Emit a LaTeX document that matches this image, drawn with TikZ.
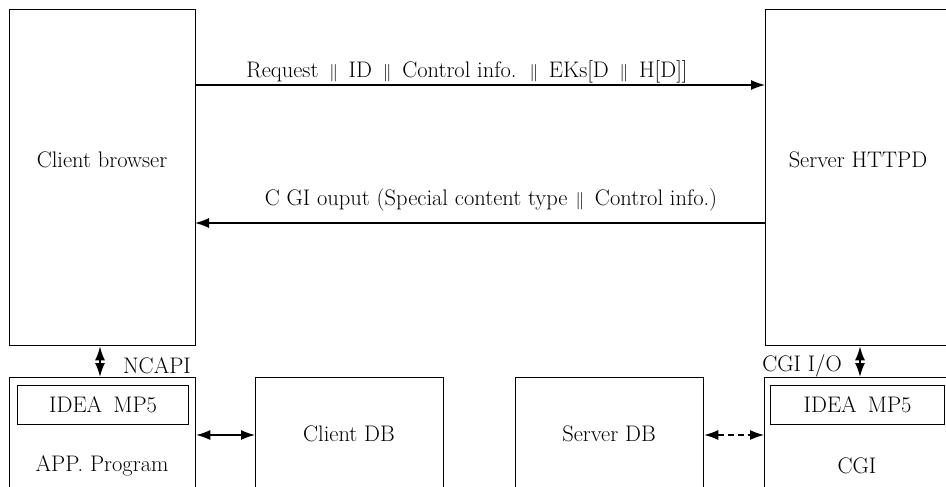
\documentclass[tikz,border=0pt]{standalone}
\usetikzlibrary{arrows.meta}
\newcommand{\dbar}{\hspace{4pt}{\fontsize{19}{20}\selectfont\raisebox{0.5pt}{$\|$}}\hspace{4pt}}
\begin{document}
\begin{tikzpicture}[x=1pt,y=-1pt,
  box/.style={draw, line width=1.3pt, rectangle, anchor=north west, inner sep=0pt},
  lbl/.style={font=\fontsize{22.5}{26}\selectfont, inner sep=0pt},
  arr/.style={line width=1.2pt, -{Latex[length=14pt,width=10pt]}},
  darr/.style={line width=1.2pt, {Latex[length=14pt,width=10pt]}-{Latex[length=14pt,width=10pt]}}]
\useasboundingbox (0,0) rectangle (946,487);
\clip (0,0) rectangle (946,487);
% top boxes
\node[box, minimum width=186pt, minimum height=336pt] (cb) at (9,9) {};
\node[box, minimum width=220pt, minimum height=336pt] (sh) at (765,9) {};
\node[lbl] (cbt) at (102,160) {Client browser};
\node[lbl] (sht) at (858,160) {Server HTTPD};
% bottom boxes
\node[box, minimum width=186pt, minimum height=140pt] (app) at (9,377) {};
\node[box, minimum width=171pt, minimum height=39pt] (idea1) at (17,385) {};
\node[lbl] at (idea1.center) {IDEA\enspace MP5};
\node[lbl] (appt) at (102,466) {APP. Program};
\node[box, minimum width=188pt, minimum height=140pt] (cdb) at (255,377) {};
\node[lbl] at (349,434) {Client DB};
\node[box, minimum width=188pt, minimum height=140pt] (sdb) at (515,377) {};
\node[lbl] at (609,434) {Server DB};
\node[box, minimum width=220pt, minimum height=140pt] (cgi) at (764,377) {};
\node[box, minimum width=174pt, minimum height=39pt] (idea2) at (770,385) {};
\node[lbl] at (idea2.center) {IDEA\enspace MP5};
\node[lbl] (cgit) at (857,466) {CGI};
% horizontal arrows
\coordinate (r1) at (195,85);
\coordinate (r2) at (765,85);
\draw[arr] (r1) -- (r2);
\node[lbl] at (467,72) {Request \dbar\ ID \dbar\ Control info. \dbar\ EKs[D \dbar\ H[D]]};
\coordinate (b1) at (765,223);
\coordinate (b2) at (195,223);
\draw[arr] (b1) -- (b2);
\node[lbl] at (491,200) {C GI ouput (Special content type\hspace{4pt}\dbar\ Control info.)};
% vertical arrows
\draw[darr, line width=1.7pt] (cb.south -| 100,0) -- (app.north -| 100,0);
\node[lbl] at (157,366) {NCAPI};
\draw[darr, line width=1.7pt] (sh.south -| 860,0) -- (cgi.north -| 860,0);
\node[lbl] at (802,366) {CGI I/O};
% bottom horizontal arrows
\draw[darr] (app.east |- 0,435) -- (cdb.west |- 0,435);
\draw[darr, dash pattern=on 6pt off 4pt] (sdb.east |- 0,435) -- (cgi.west |- 0,435);
\end{tikzpicture}
\end{document}
